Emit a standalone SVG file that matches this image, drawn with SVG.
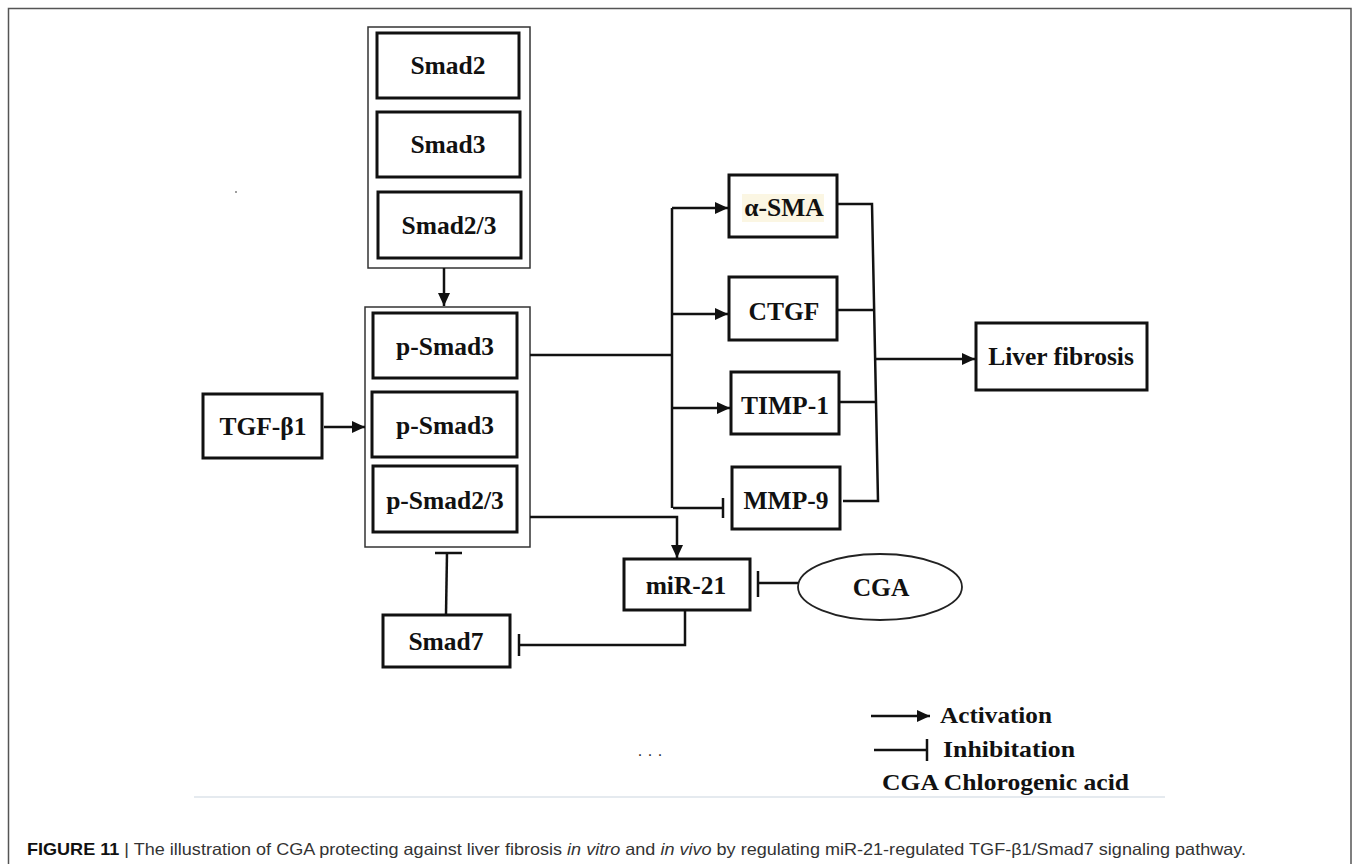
<svg xmlns="http://www.w3.org/2000/svg" width="1358" height="864" viewBox="0 0 1358 864">
<style>
.box{fill:#fff;stroke:#111;stroke-width:3}
.cont{fill:#fff;stroke:#333;stroke-width:1.5}
.lbl{font-family:"Liberation Serif","Times New Roman",serif;font-weight:bold;font-size:25.5px;fill:#111;text-anchor:middle}
.leg{font-family:"Liberation Serif","Times New Roman",serif;font-weight:bold;font-size:23px;fill:#111}
.ln{fill:none;stroke:#111;stroke-width:2.5}
.cap{font-family:"Liberation Sans",Arial,sans-serif;font-size:16.5px;fill:#333}
</style>
<defs>
<marker id="arr" viewBox="0 0 13 12" refX="13" refY="6" markerWidth="13" markerHeight="12" markerUnits="userSpaceOnUse" orient="auto">
<path d="M0,0 L13,6 L0,12 z" fill="#111"/>
</marker>
</defs>
<rect x="0" y="0" width="1358" height="864" fill="#fff"/>
<path d="M8.5,870 V8.5 H1351 V870" fill="none" stroke="#555" stroke-width="1.5"/>
<line x1="194" y1="797" x2="1165" y2="797" stroke="#dde3ea" stroke-width="1.5"/>
<circle cx="236" cy="192" r="0.8" fill="#222"/>
<text x="650" y="760" class="cap" text-anchor="middle" font-size="10">· · ·</text>

<g id="smad-group">
<rect class="cont" x="368" y="27" width="162" height="241"/>
<g id="smad2"><rect class="box" x="377" y="33" width="142" height="65"/><text class="lbl" x="448" y="74">Smad2</text></g>
<g id="smad3"><rect class="box" x="377" y="112" width="143" height="65"/><text class="lbl" x="448" y="153">Smad3</text></g>
<g id="smad23"><rect class="box" x="378" y="192" width="143" height="66"/><text class="lbl" x="449" y="234">Smad2/3</text></g>
</g>

<g id="psmad-group">
<rect class="cont" x="365" y="307" width="165" height="240"/>
<g id="psmad3a"><rect class="box" x="373" y="313" width="144" height="65"/><text class="lbl" x="445" y="355">p-Smad3</text></g>
<g id="psmad3b"><rect class="box" x="372" y="392" width="145" height="65"/><text class="lbl" x="445" y="434">p-Smad3</text></g>
<g id="psmad23"><rect class="box" x="373" y="466" width="144" height="66"/><text class="lbl" x="445" y="509">p-Smad2/3</text></g>
</g>

<g id="tgfb1"><rect class="box" x="203" y="394" width="119" height="64"/><text class="lbl" x="263" y="435">TGF-β1</text></g>
<g id="smad7"><rect class="box" x="383" y="615" width="127" height="52"/><text class="lbl" x="446" y="650">Smad7</text></g>
<g id="mir21"><rect class="box" x="624" y="559" width="126" height="51"/><text class="lbl" x="686" y="594">miR-21</text></g>
<g id="cga"><ellipse cx="880" cy="587" rx="82" ry="33" fill="#fff" stroke="#222" stroke-width="1.8"/><text class="lbl" x="881" y="596">CGA</text></g>
<g id="asma"><rect class="box" x="729" y="175" width="108" height="62"/><rect x="742" y="194" width="82" height="28" fill="#fbf6e3"/><text class="lbl" x="784" y="216">α-SMA</text></g>
<g id="ctgf"><rect class="box" x="729" y="277" width="108" height="63"/><text class="lbl" x="784" y="320">CTGF</text></g>
<g id="timp1"><rect class="box" x="731" y="372" width="108" height="62"/><text class="lbl" x="785" y="414">TIMP-1</text></g>
<g id="mmp9"><rect class="box" x="732" y="467" width="108" height="62"/><text class="lbl" x="786" y="509">MMP-9</text></g>
<g id="liver"><rect class="box" x="976" y="323" width="171" height="67"/><text class="lbl" x="1061" y="365">Liver fibrosis</text></g>

<g id="connectors">
<line class="ln" x1="444" y1="268" x2="444" y2="306" marker-end="url(#arr)"/>
<line class="ln" x1="324" y1="427" x2="365" y2="427" marker-end="url(#arr)"/>
<polyline class="ln" points="530,355 672,355"/>
<polyline class="ln" points="672,208 672,508"/>
<line class="ln" x1="672" y1="208" x2="728" y2="208" marker-end="url(#arr)"/>
<line class="ln" x1="672" y1="314" x2="728" y2="314" marker-end="url(#arr)"/>
<line class="ln" x1="673" y1="408" x2="730" y2="408" marker-end="url(#arr)"/>
<polyline class="ln" points="673,508 723,508"/>
<line class="ln" x1="723" y1="498" x2="723" y2="518"/>
<polyline class="ln" points="838,204 872,204 878,501 843,501"/>
<line class="ln" x1="838" y1="310" x2="875" y2="310"/>
<line class="ln" x1="840" y1="402" x2="877" y2="402"/>
<line class="ln" x1="876" y1="359" x2="975" y2="359" marker-end="url(#arr)"/>
<polyline class="ln" points="530,517 677,517 677,558" marker-end="url(#arr)"/>
<line class="ln" x1="798" y1="583" x2="758" y2="583"/>
<line class="ln" x1="758" y1="571" x2="758" y2="597"/>
<polyline class="ln" points="685,611 685,645 519,645"/>
<line class="ln" x1="519" y1="634" x2="519" y2="656"/>
<line class="ln" x1="446" y1="614" x2="447" y2="553"/>
<line class="ln" x1="435" y1="553" x2="462" y2="553"/>
</g>

<g id="legend">
<line class="ln" x1="871" y1="716" x2="930" y2="716" marker-end="url(#arr)"/>
<text class="leg" x="940" y="723" textLength="112" lengthAdjust="spacingAndGlyphs">Activation</text>
<line class="ln" x1="874" y1="750" x2="927" y2="750"/>
<line class="ln" x1="927" y1="739" x2="927" y2="761"/>
<text class="leg" x="943" y="757" textLength="132" lengthAdjust="spacingAndGlyphs">Inhibitation</text>
<text class="leg" x="882" y="790" textLength="247" lengthAdjust="spacingAndGlyphs">CGA Chlorogenic acid</text>
</g>

<text class="cap" x="27" y="855" textLength="1219" lengthAdjust="spacingAndGlyphs"><tspan font-weight="bold" fill="#111">FIGURE 11</tspan> | The illustration of CGA protecting against liver fibrosis <tspan font-style="italic">in vitro</tspan> and <tspan font-style="italic">in vivo</tspan> by regulating miR-21-regulated TGF-β1/Smad7 signaling pathway.</text>
</svg>
